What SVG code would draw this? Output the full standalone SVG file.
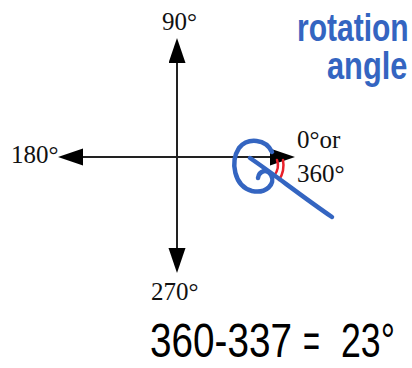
<svg xmlns="http://www.w3.org/2000/svg" width="412" height="368" viewBox="0 0 412 368">
<style>
.lbl{font-family:"Liberation Serif","Times New Roman",serif;font-size:25px;fill:#111}
.axis{stroke:#222;stroke-width:2;fill:none}
.hand{font-family:"Liberation Sans",Arial,sans-serif;font-weight:bold;font-size:38px;fill:#3465c1}
.ink{stroke:#3465c1;stroke-width:4.5;fill:none;stroke-linecap:round;stroke-linejoin:round}
.red{stroke:#e8202a;stroke-width:2.5;fill:none;stroke-linecap:round}
.calc{font-family:"Liberation Sans",Arial,sans-serif;font-size:44px;fill:#000}
</style>
<defs>
<marker id="arr" markerUnits="userSpaceOnUse" markerWidth="26" markerHeight="18" refX="22" refY="8.5" orient="auto">
<path d="M0,0 L25,8.5 L0,17 z" fill="#000"/>
</marker>
</defs>
<rect width="412" height="368" fill="#fff"/>
<g id="connectors">
<line class="axis" x1="177" y1="157" x2="177" y2="41" marker-end="url(#arr)"/>
<line class="axis" x1="177" y1="157" x2="177" y2="270" marker-end="url(#arr)"/>
<line class="axis" x1="177" y1="157" x2="61" y2="157" marker-end="url(#arr)"/>
<line class="axis" x1="177" y1="157" x2="292" y2="157" marker-end="url(#arr)"/>
</g>
<g id="n90"><text class="lbl" x="162" y="30">90°</text></g>
<g id="n180"><text class="lbl" x="11" y="163">180°</text></g>
<g id="n0"><text class="lbl" x="297" y="148">0°or</text><text class="lbl" x="297" y="182">360°</text></g>
<g id="n270"><text class="lbl" x="151" y="300">270°</text></g>
<g id="angle">
<path class="red" d="M277 160 Q280 168 274 176"/>
<path class="red" d="M283 160 Q285 171 279 180"/>
</g>
<g id="loop">
<path class="ink" d="M272 152 C266 139 248 137 239 148 C230 162 234 186 252 191 C266 194 276 184 271 175 C267 168 259 171 258 178"/>
<path class="ink" d="M250 158 C275 175 300 195 332 217"/>
</g>
<g id="note">
<text class="hand" transform="translate(297,41) scale(0.79,1)">rotation</text>
<text class="hand" transform="translate(327,79) scale(0.81,1)">angle</text>
</g>
<g id="calc">
<text class="calc" transform="translate(150,357) scale(0.879,1.1)">360-337</text>
<text class="calc" transform="translate(303,357) scale(0.66,1.1)">=</text>
<text class="calc" transform="translate(341,357) scale(0.81,1.1)">23°</text>
</g>
</svg>
